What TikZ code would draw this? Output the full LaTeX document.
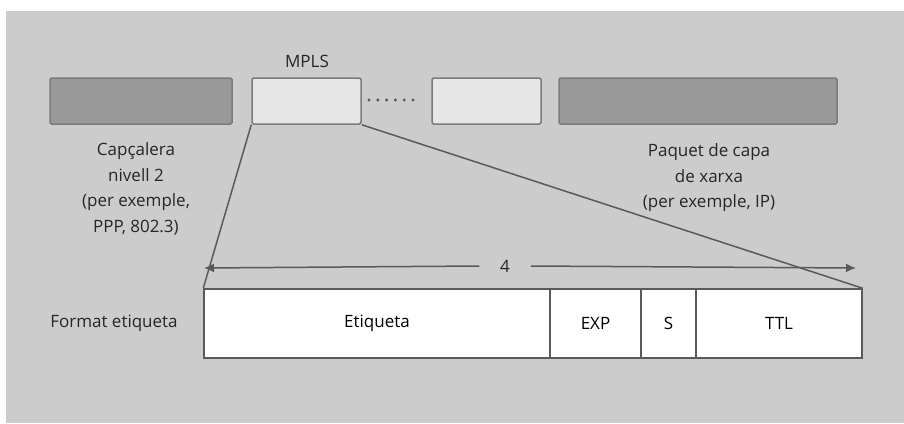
\documentclass[tikz,border=0pt]{standalone}
\usepackage{fontspec}
\setmainfont{Open Sans}
\usetikzlibrary{arrows.meta}
\definecolor{fons}{HTML}{CCCCCC}
\definecolor{fosc}{HTML}{999999}
\definecolor{clar}{HTML}{E6E6E6}
\definecolor{vora}{HTML}{5A5A5A}
\begin{document}
\begin{tikzpicture}[x=1pt,y=-1pt,line width=1.5pt,
  font=\fontsize{17}{25.5}\selectfont,
  caixa/.style={draw=vora!80,rounded corners=1.5pt,minimum height=46pt,inner sep=0pt},
  camp/.style={draw=vora,fill=white,minimum height=69pt,inner sep=0pt},
  rotul/.style={text=black!85,align=center,inner sep=0pt},
  fletxa/.style={vora,-{Latex[length=10pt,width=9pt]}}]
  \useasboundingbox (0,0) rectangle (904,423);
  \fill[fons] (6,11) rectangle (904,423);

  \node[caixa,fill=fosc,minimum width=182pt] (L2)   at (141,101)   {};
  \node[caixa,fill=clar,minimum width=109pt] (M1)   at (306.5,101) {};
  \node[caixa,fill=clar,minimum width=109pt] (M2)   at (486.5,101) {};
  \node[caixa,fill=fosc,minimum width=278pt] (P)    at (698,101)   {};
  \foreach \i in {0,...,5}
    \fill[vora] (369+\i*8.8,100) circle (1.7pt);
  \node[rotul] (mpls) at (307,61) {MPLS};

  \node[rotul] (capL2) at (136,189) {Capçalera\\nivell 2\\(per exemple,\\PPP, 802.3)};
  \node[rotul] (capP)  at (709,178) {Paquet de capa\\de xarxa\\(per exemple, IP)};

  \node[camp,minimum width=346pt] (etq) at (377,323.5)   {Etiqueta};
  \node[camp,minimum width=91pt]  (exp) at (595.5,323.5) {EXP};
  \node[camp,minimum width=55pt]  (s)   at (668.5,323.5) {S};
  \node[camp,minimum width=166pt] (ttl) at (779,323.5)   {TTL};
  \node[rotul] (fmt) at (114,323) {Format etiqueta};

  \coordinate (ini) at (204,268);
  \coordinate (fi)  at (856,268);
  \node[rotul,minimum width=50pt] (mida) at (505,266) {4};
  \draw[fletxa] (mida.west) -- (ini);
  \draw[fletxa] (mida.east) -- (fi);

  \draw[vora] (M1.south west) -- (etq.north west);
  \draw[vora] (M1.south east) -- (ttl.north east);
\end{tikzpicture}
\end{document}
